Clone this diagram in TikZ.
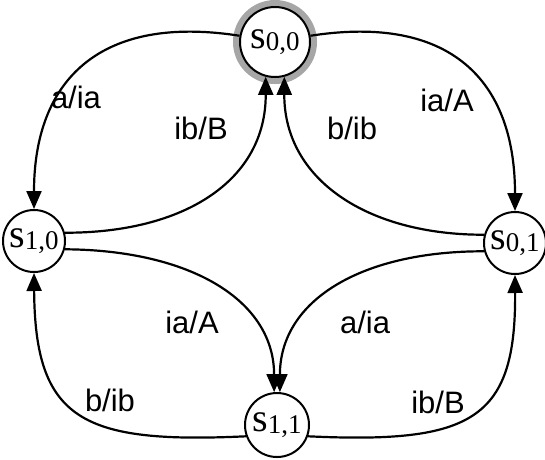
\documentclass[tikz,border=0pt]{standalone}
\usepackage{fontspec}
\setmainfont{Liberation Serif}
\newfontfamily\lblfont{Liberation Sans}
\usetikzlibrary{arrows.meta}

% state name: upright s with a lowered index
\newcommand{\stname}[2]{{\fontsize{40}{40}\selectfont s}\raisebox{-0.30ex}{\fontsize{27}{27}\selectfont #1,#2}}

\tikzset{
  statenode/.style={circle, draw=black, line width=2pt, fill=white,
                    minimum size=#1, inner sep=0pt},
  statenode/.default=62pt,
  initstate/.style={statenode=70pt,
                    preaction={draw=black!50, line width=14pt, opacity=0.7}},
  trans/.style={line width=2.2pt, -{Triangle[length=18pt,width=15pt]}},
  lbl/.style={font=\lblfont\fontsize{31}{31}\selectfont, inner sep=0pt}
}

\begin{document}
\begin{tikzpicture}[x=1pt, y=-1pt]
  \useasboundingbox (0,0) rectangle (545,459);

  % states
  \node[initstate] (s00) at (275,42)  {\stname{0}{0}};
  \node[statenode] (s10) at (34,241)  {\stname{1}{0}};
  \node[statenode] (s01) at (515,243) {\stname{0}{1}};
  \node[statenode=64pt] (s11) at (277,425) {\stname{1}{1}};

  % outer transitions
  \draw[trans] (s00.170) .. controls (100,14) and (34,80) .. (s10.north);
  \draw[trans] (s00.10)  .. controls (450,14) and (515,80) .. (s01.north);
  \draw[trans] (s11.200) .. controls (82,444) and (35,420) .. (s10.south);
  \draw[trans] (s11.-20) .. controls (472,444) and (516,420) .. (s01.south);

  % inner transitions
  \draw[trans] (s10.15)  .. controls (185,233) and (266,180) .. (s00.255);
  \draw[trans] (s01.165) .. controls (368,235) and (284,180) .. (s00.285);
  \draw[trans] (s10.-15) .. controls (190,250) and (274,300) .. (s11.95);
  \draw[trans] (s01.195) .. controls (362,251) and (280,300) .. (s11.85);

  % transition labels
  \node[lbl] (l1) at (76,97)   {a/ia};
  \node[lbl] (l2) at (447,100) {ia/A};
  \node[lbl] (l3) at (201,128) {ib/B};
  \node[lbl] (l4) at (352,128) {b/ib};
  \node[lbl] (l5) at (192,322) {ia/A};
  \node[lbl] (l6) at (365,322) {a/ia};
  \node[lbl] (l7) at (110,400) {b/ib};
  \node[lbl] (l8) at (438,402) {ib/B};
\end{tikzpicture}
\end{document}
